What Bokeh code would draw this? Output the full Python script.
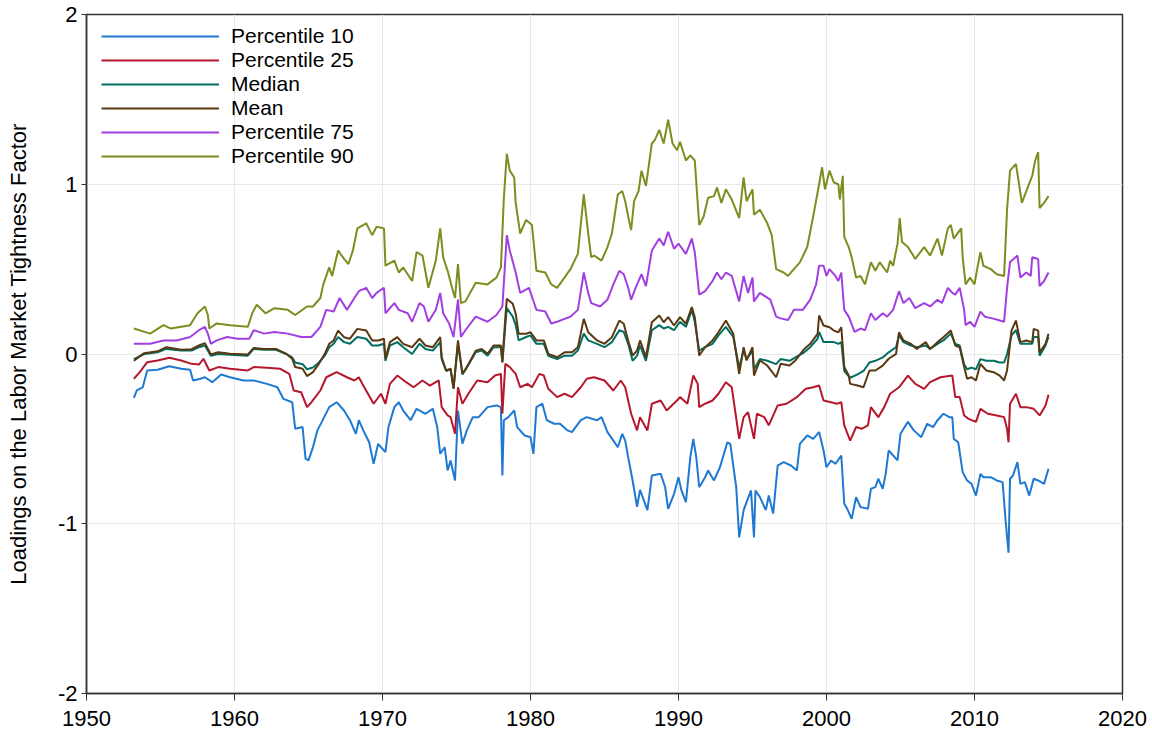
from bokeh.plotting import figure
from bokeh.models import Legend, LegendItem, FixedTicker
from bokeh.embed import file_html
from bokeh.resources import INLINE

# ---------------- data ----------------
p90_x = [1953.2, 1954.3, 1955.2, 1955.7, 1957.0, 1957.5, 1958.0, 1958.2, 1958.3, 1958.8, 1959.7, 1960.9,
         1961.2, 1961.5, 1962.1, 1962.7, 1963.6, 1964.1, 1964.9, 1965.3, 1965.8, 1966.0, 1966.4, 1966.6,
         1967.0, 1967.4, 1967.7, 1968.0, 1968.3, 1968.9, 1969.3, 1969.6, 1970.1, 1970.2, 1970.8, 1971.1,
         1971.4, 1972.0, 1972.3, 1972.7, 1973.1, 1973.6, 1973.9, 1974.1, 1974.4, 1974.7, 1974.9, 1975.1,
         1975.3, 1975.6, 1976.3, 1977.1, 1977.7, 1978.0, 1978.2, 1978.4, 1978.6, 1978.9, 1979.0, 1979.3,
         1979.7, 1980.1, 1980.4, 1981.0, 1981.4, 1981.8, 1982.7, 1983.2, 1983.6, 1983.9, 1984.1, 1984.3,
         1984.8, 1985.2, 1985.5, 1985.9, 1986.2, 1986.4, 1986.6, 1986.8, 1987.0, 1987.3, 1987.5, 1987.8,
         1988.2, 1988.4, 1988.7, 1989.0, 1989.3, 1989.6, 1989.9, 1990.1, 1990.5, 1990.8, 1991.1, 1991.4,
         1991.7, 1992.0, 1992.4, 1992.6, 1992.9, 1993.2, 1993.6, 1994.1, 1994.4, 1994.6, 1995.0, 1995.1,
         1995.5, 1996.0, 1996.3, 1996.6, 1997.1, 1997.4, 1997.8, 1998.2, 1998.7, 1999.1, 1999.5, 1999.7,
         1999.9, 2000.2, 2000.5, 2000.8, 2000.9, 2001.1, 2001.2, 2001.5, 2001.7, 2002.0, 2002.3, 2002.6,
         2003.0, 2003.3, 2003.6, 2004.1, 2004.3, 2004.5, 2004.8, 2004.95, 2005.1, 2005.5, 2006.0, 2006.6,
         2007.0, 2007.5, 2007.8, 2008.2, 2008.4, 2008.6, 2009.1, 2009.2, 2009.4, 2009.7, 2010.0, 2010.2,
         2010.4, 2010.6, 2011.1, 2011.5, 2012.0, 2012.2, 2012.4, 2012.8, 2013.2, 2013.5, 2013.9, 2014.1,
         2014.3, 2014.4, 2014.7, 2015.0]
p90_y = [0.15, 0.12, 0.17, 0.15, 0.17, 0.24, 0.28, 0.23, 0.15, 0.18, 0.17, 0.16,
         0.24, 0.29, 0.24, 0.27, 0.26, 0.23, 0.28, 0.28, 0.33, 0.41, 0.51, 0.46,
         0.61, 0.56, 0.53, 0.61, 0.74, 0.77, 0.70, 0.75, 0.74, 0.52, 0.55, 0.48,
         0.51, 0.43, 0.60, 0.58, 0.39, 0.55, 0.74, 0.57, 0.49, 0.39, 0.33, 0.53,
         0.30, 0.31, 0.42, 0.41, 0.45, 0.51, 0.92, 1.18, 1.08, 1.04, 0.89, 0.71,
         0.79, 0.76, 0.49, 0.48, 0.41, 0.39, 0.50, 0.59, 0.94, 0.71, 0.57, 0.58,
         0.55, 0.63, 0.71, 0.94, 0.96, 0.90, 0.81, 0.73, 0.90, 0.96, 1.08, 0.99,
         1.24, 1.26, 1.32, 1.24, 1.38, 1.24, 1.20, 1.25, 1.14, 1.17, 1.14, 0.76,
         0.81, 0.92, 0.93, 0.98, 0.89, 0.97, 0.91, 0.80, 1.04, 0.90, 0.97, 0.82,
         0.85, 0.77, 0.70, 0.50, 0.48, 0.46, 0.50, 0.54, 0.63, 0.81, 1.00, 1.10,
         0.97, 1.08, 1.01, 1.00, 0.91, 1.05, 0.69, 0.63, 0.57, 0.45, 0.46, 0.41,
         0.54, 0.49, 0.54, 0.48, 0.55, 0.52, 0.65, 0.80, 0.66, 0.63, 0.56, 0.63,
         0.58, 0.68, 0.58, 0.74, 0.76, 0.68, 0.74, 0.57, 0.41, 0.45, 0.41, 0.51,
         0.60, 0.52, 0.50, 0.47, 0.46, 0.85, 1.08, 1.12, 0.89, 0.96, 1.05, 1.14,
         1.19, 0.86, 0.89, 0.93]

p75_x = [1953.2, 1954.3, 1955.2, 1956.1, 1957.0, 1957.6, 1958.0, 1958.2, 1958.4, 1958.8, 1959.5, 1960.2,
         1961.0, 1961.3, 1962.0, 1962.7, 1963.6, 1964.5, 1965.2, 1965.8, 1966.2, 1966.7, 1967.1, 1967.6,
         1968.1, 1968.4, 1968.9, 1969.3, 1969.6, 1970.1, 1970.2, 1970.8, 1971.1, 1971.7, 1972.0, 1972.5,
         1972.8, 1973.1, 1973.6, 1973.9, 1974.1, 1974.5, 1974.8, 1975.1, 1975.3, 1975.6, 1976.3, 1977.1,
         1977.7, 1978.1, 1978.4, 1978.6, 1979.0, 1979.3, 1979.9, 1980.4, 1981.0, 1981.4, 1981.8, 1982.7,
         1983.2, 1983.6, 1983.9, 1984.1, 1984.7, 1985.2, 1985.6, 1986.0, 1986.3, 1986.6, 1986.8, 1987.1,
         1987.5, 1987.8, 1988.2, 1988.7, 1989.0, 1989.3, 1989.7, 1990.0, 1990.5, 1990.9, 1991.1, 1991.4,
         1991.8, 1992.3, 1992.6, 1992.9, 1993.2, 1993.6, 1994.1, 1994.4, 1994.7, 1995.0, 1995.1, 1995.5,
         1996.2, 1996.6, 1996.9, 1997.4, 1997.8, 1998.4, 1998.9, 1999.3, 1999.5, 1999.8, 2000.0, 2000.2,
         2000.6, 2000.8, 2001.0, 2001.2, 2001.5, 2001.9, 2002.3, 2002.6, 2003.0, 2003.3, 2003.8, 2004.1,
         2004.5, 2004.9, 2005.2, 2005.6, 2006.0, 2006.6, 2007.0, 2007.5, 2007.8, 2008.2, 2008.5, 2008.7,
         2009.0, 2009.3, 2009.4, 2009.7, 2010.0, 2010.4, 2010.7, 2011.2, 2011.6, 2012.0, 2012.2, 2012.4,
         2012.9, 2013.1, 2013.5, 2013.8, 2013.9, 2014.3, 2014.4, 2014.7, 2015.0]
p75_y = [0.06, 0.06, 0.08, 0.08, 0.10, 0.14, 0.16, 0.12, 0.06, 0.08, 0.10, 0.09,
         0.09, 0.14, 0.12, 0.13, 0.12, 0.10, 0.10, 0.16, 0.26, 0.25, 0.33, 0.26,
         0.33, 0.37, 0.39, 0.33, 0.36, 0.39, 0.24, 0.30, 0.26, 0.24, 0.19, 0.30,
         0.28, 0.19, 0.26, 0.36, 0.24, 0.18, 0.10, 0.32, 0.10, 0.14, 0.22, 0.19,
         0.23, 0.28, 0.70, 0.61, 0.48, 0.36, 0.39, 0.26, 0.25, 0.18, 0.19, 0.22,
         0.26, 0.48, 0.36, 0.30, 0.28, 0.32, 0.41, 0.49, 0.47, 0.39, 0.32, 0.39,
         0.47, 0.40, 0.61, 0.68, 0.64, 0.72, 0.62, 0.65, 0.59, 0.68, 0.60, 0.35,
         0.37, 0.43, 0.48, 0.44, 0.48, 0.46, 0.31, 0.46, 0.36, 0.45, 0.31, 0.36,
         0.32, 0.22, 0.21, 0.20, 0.26, 0.26, 0.32, 0.41, 0.52, 0.52, 0.46, 0.50,
         0.46, 0.43, 0.48, 0.26, 0.22, 0.13, 0.15, 0.14, 0.24, 0.20, 0.24, 0.22,
         0.26, 0.37, 0.30, 0.33, 0.27, 0.30, 0.28, 0.32, 0.30, 0.39, 0.36, 0.35,
         0.39, 0.26, 0.17, 0.19, 0.16, 0.25, 0.22, 0.21, 0.20, 0.19, 0.39, 0.54,
         0.58, 0.45, 0.48, 0.46, 0.57, 0.56, 0.40, 0.43, 0.48]

mean_x = [1953.2, 1953.9, 1954.8, 1955.4, 1956.4, 1957.1, 1957.6, 1958.0, 1958.4, 1958.9, 1959.7, 1960.9,
          1961.3, 1962.0, 1962.8, 1963.5, 1963.9, 1964.1, 1964.6, 1964.9, 1965.3, 1965.7, 1966.1, 1966.4,
          1966.7, 1967.0, 1967.4, 1967.8, 1968.3, 1968.9, 1969.3, 1969.7, 1970.1, 1970.2, 1970.5, 1971.0,
          1971.4, 1972.0, 1972.5, 1972.9, 1973.4, 1973.9, 1974.0, 1974.3, 1974.6, 1974.8, 1975.1, 1975.4,
          1975.7, 1976.3, 1976.7, 1977.1, 1977.5, 1978.0, 1978.1, 1978.3, 1978.4, 1978.8, 1979.0, 1979.2,
          1979.7, 1980.0, 1980.4, 1980.9, 1981.2, 1981.8, 1982.3, 1982.8, 1983.2, 1983.6, 1983.9, 1984.5,
          1985.0, 1985.5, 1986.0, 1986.3, 1986.6, 1986.9, 1987.2, 1987.4, 1987.8, 1988.2, 1988.7, 1989.0,
          1989.3, 1989.7, 1990.1, 1990.5, 1990.9, 1991.1, 1991.4, 1991.8, 1992.3, 1992.7, 1993.2, 1993.7,
          1994.1, 1994.4, 1994.6, 1995.0, 1995.1, 1995.5, 1996.0, 1996.6, 1996.9, 1997.5, 1997.9, 1998.5,
          1998.9, 1999.4, 1999.5, 1999.8, 2000.2, 2000.5, 2000.8, 2001.0, 2001.2, 2001.5, 2001.6, 2002.1,
          2002.5, 2002.9, 2003.3, 2003.8, 2004.2, 2004.7, 2004.9, 2005.2, 2005.7, 2006.1, 2006.7, 2007.0,
          2007.5, 2007.9, 2008.4, 2008.7, 2009.0, 2009.3, 2009.5, 2009.8, 2010.1, 2010.4, 2010.8, 2011.3,
          2011.7, 2012.0, 2012.2, 2012.5, 2012.8, 2013.1, 2013.5, 2013.9, 2014.0, 2014.3, 2014.4, 2014.8,
          2015.0]
mean_y = [-0.04, 0.005, 0.016, 0.04, 0.025, 0.028, 0.05, 0.064, -0.003, 0.01, 0.001, -0.003,
          0.036, 0.03, 0.03, 0.001, -0.028, -0.077, -0.087, -0.13, -0.107, -0.058, 0.001, 0.06,
          0.08, 0.138, 0.099, 0.09, 0.148, 0.138, 0.08, 0.08, 0.09, -0.028, 0.07, 0.099,
          0.06, 0.04, 0.09, 0.05, 0.04, 0.099, -0.019, -0.097, -0.087, -0.205, 0.08, -0.117,
          -0.077, 0.02, 0.03, 0.001, 0.05, 0.05, -0.048, 0.217, 0.325, 0.296, 0.237, 0.119,
          0.119, 0.128, 0.08, 0.08, 0.001, -0.019, 0.01, 0.01, 0.04, 0.207, 0.128, 0.08,
          0.06, 0.099, 0.197, 0.178, 0.08, -0.009, 0.02, 0.08, -0.019, 0.187, 0.227, 0.187,
          0.217, 0.168, 0.217, 0.178, 0.276, 0.217, -0.009, 0.04, 0.08, 0.128, 0.197, 0.119,
          -0.117, 0.04, -0.038, 0.04, -0.127, -0.038, -0.068, -0.137, -0.058, -0.068, -0.038, 0.03,
          0.06, 0.119, 0.227, 0.168, 0.158, 0.138, 0.128, 0.158, -0.077, -0.127, -0.176, -0.186,
          -0.196, -0.097, -0.097, -0.068, -0.028, 0.001, 0.128, 0.08, 0.06, 0.03, 0.07, 0.03,
          0.07, 0.099, 0.138, 0.05, 0.04, -0.077, -0.146, -0.137, -0.156, -0.058, -0.097, -0.107,
          -0.127, -0.156, -0.097, 0.138, 0.197, 0.07, 0.08, 0.07, 0.148, 0.138, 0.01, 0.06,
          0.119]

median_x = [1953.2, 1953.9, 1954.8, 1955.4, 1956.4, 1957.1, 1957.6, 1958.0, 1958.4, 1958.9, 1959.7, 1960.9,
            1961.3, 1962.0, 1962.8, 1963.5, 1963.9, 1964.1, 1964.6, 1964.9, 1965.3, 1965.7, 1966.1, 1966.4,
            1966.7, 1967.0, 1967.4, 1967.8, 1968.3, 1968.9, 1969.3, 1969.7, 1970.1, 1970.2, 1970.5, 1971.0,
            1971.4, 1972.0, 1972.5, 1972.9, 1973.4, 1973.9, 1974.0, 1974.3, 1974.6, 1974.8, 1975.1, 1975.4,
            1975.7, 1976.3, 1976.7, 1977.1, 1977.5, 1978.0, 1978.1, 1978.3, 1978.4, 1978.8, 1979.0, 1979.2,
            1979.7, 1980.0, 1980.4, 1980.9, 1981.2, 1981.8, 1982.3, 1982.8, 1983.2, 1983.6, 1983.9, 1984.5,
            1985.0, 1985.5, 1986.0, 1986.3, 1986.6, 1986.9, 1987.2, 1987.4, 1987.8, 1988.2, 1988.7, 1989.0,
            1989.3, 1989.7, 1990.1, 1990.5, 1990.9, 1991.1, 1991.4, 1991.8, 1992.3, 1992.7, 1993.2, 1993.7,
            1994.1, 1994.4, 1994.6, 1995.0, 1995.1, 1995.5, 1996.0, 1996.6, 1996.9, 1997.5, 1997.9, 1998.5,
            1998.9, 1999.4, 1999.5, 1999.8, 2000.2, 2000.5, 2000.8, 2001.0, 2001.2, 2001.5, 2001.6, 2002.1,
            2002.5, 2002.9, 2003.3, 2003.8, 2004.2, 2004.7, 2004.9, 2005.2, 2005.7, 2006.1, 2006.7, 2007.0,
            2007.5, 2007.9, 2008.4, 2008.7, 2009.0, 2009.3, 2009.5, 2009.8, 2010.1, 2010.4, 2010.8, 2011.3,
            2011.7, 2012.0, 2012.2, 2012.5, 2012.8, 2013.1, 2013.5, 2013.9, 2014.0, 2014.3, 2014.4, 2014.8,
            2015.0]
median_y = [-0.03, 0.0, 0.01, 0.03, 0.02, 0.02, 0.04, 0.05, -0.01, 0.0, -0.005, -0.01,
            0.03, 0.025, 0.025, 0.0, -0.02, -0.05, -0.06, -0.09, -0.08, -0.05, -0.01, 0.04,
            0.06, 0.10, 0.07, 0.06, 0.10, 0.09, 0.05, 0.05, 0.06, -0.04, 0.05, 0.07,
            0.04, 0.0, 0.06, 0.03, 0.02, 0.07, -0.03, -0.10, -0.09, -0.20, 0.06, -0.12,
            -0.08, 0.01, 0.02, -0.01, 0.04, 0.04, -0.05, 0.17, 0.27, 0.22, 0.17, 0.08,
            0.10, 0.11, 0.06, 0.06, -0.01, -0.03, -0.01, -0.01, 0.02, 0.12, 0.08, 0.06,
            0.04, 0.07, 0.14, 0.13, 0.06, -0.04, -0.01, 0.05, -0.04, 0.14, 0.17, 0.15,
            0.16, 0.14, 0.19, 0.16, 0.26, 0.19, 0.02, 0.04, 0.06, 0.11, 0.16, 0.10,
            -0.08, 0.02, -0.03, 0.02, -0.09, -0.03, -0.04, -0.06, -0.03, -0.04, -0.02, 0.01,
            0.04, 0.09, 0.13, 0.07, 0.07, 0.07, 0.06, 0.07, -0.10, -0.13, -0.14, -0.12,
            -0.10, -0.05, -0.04, -0.02, 0.01, 0.04, 0.11, 0.07, 0.05, 0.04, 0.05, 0.03,
            0.06, 0.08, 0.12, 0.06, 0.05, -0.06, -0.09, -0.08, -0.09, -0.03, -0.04, -0.04,
            -0.05, -0.05, 0.0, 0.11, 0.14, 0.06, 0.06, 0.06, 0.10, 0.10, -0.01, 0.05,
            0.10]

p25_x = [1953.2, 1953.6, 1954.1, 1954.8, 1955.6, 1956.4, 1957.1, 1957.6, 1957.9, 1958.3, 1958.9, 1959.7,
         1960.9, 1961.3, 1962.2, 1963.1, 1963.7, 1964.0, 1964.5, 1964.9, 1965.2, 1965.8, 1966.2, 1966.9,
         1967.6, 1968.1, 1968.4, 1968.7, 1969.4, 1969.9, 1970.2, 1970.5, 1971.0, 1971.6, 1972.1, 1972.7,
         1973.2, 1973.8, 1974.0, 1974.4, 1974.6, 1974.9, 1975.1, 1975.4, 1975.8, 1976.4, 1977.1, 1977.6,
         1978.0, 1978.1, 1978.3, 1978.6, 1979.0, 1979.3, 1979.8, 1980.1, 1980.6, 1980.9, 1981.2, 1981.8,
         1982.3, 1982.8, 1983.4, 1983.8, 1984.3, 1985.0, 1985.6, 1986.1, 1986.4, 1986.8, 1987.2, 1987.4,
         1987.9, 1988.2, 1988.8, 1989.2, 1989.9, 1990.1, 1990.6, 1991.0, 1991.3, 1991.4, 1991.8, 1992.3,
         1992.7, 1993.2, 1993.6, 1994.1, 1994.4, 1994.7, 1995.1, 1995.3, 1995.8, 1996.1, 1996.7, 1997.3,
         1998.0, 1998.6, 1999.1, 1999.5, 1999.8, 2000.3, 2000.7, 2001.0, 2001.2, 2001.6, 2002.0, 2002.4,
         2002.8, 2003.0, 2003.5, 2003.9, 2004.3, 2004.9, 2005.5, 2006.0, 2006.6, 2007.0, 2007.7, 2008.5,
         2008.7, 2009.0, 2009.3, 2009.6, 2010.1, 2010.4, 2010.9, 2011.5, 2012.0, 2012.2, 2012.3, 2012.4,
         2012.8, 2013.1, 2013.5, 2014.0, 2014.4, 2014.8, 2015.0]
p25_y = [-0.146, -0.107, -0.048, -0.038, -0.022, -0.038, -0.058, -0.062, -0.028, -0.097, -0.077, -0.087,
         -0.097, -0.077, -0.081, -0.087, -0.117, -0.215, -0.225, -0.313, -0.284, -0.215, -0.137, -0.107,
         -0.137, -0.156, -0.137, -0.186, -0.293, -0.234, -0.293, -0.176, -0.127, -0.166, -0.196, -0.156,
         -0.186, -0.156, -0.313, -0.362, -0.372, -0.47, -0.196, -0.293, -0.234, -0.156, -0.166, -0.127,
         -0.117, -0.352, -0.058, -0.077, -0.117, -0.196, -0.176, -0.196, -0.117, -0.127, -0.205, -0.254,
         -0.234, -0.254, -0.196, -0.146, -0.137, -0.156, -0.215, -0.156, -0.196, -0.352, -0.45, -0.372,
         -0.45, -0.293, -0.274, -0.333, -0.274, -0.254, -0.293, -0.127, -0.176, -0.313, -0.293, -0.274,
         -0.234, -0.166, -0.196, -0.50, -0.372, -0.343, -0.50, -0.352, -0.372, -0.42, -0.303, -0.293,
         -0.254, -0.205, -0.196, -0.186, -0.274, -0.284, -0.293, -0.284, -0.42, -0.51, -0.43, -0.44,
         -0.42, -0.313, -0.372, -0.313, -0.234, -0.196, -0.127, -0.176, -0.205, -0.166, -0.137, -0.127,
         -0.254, -0.254, -0.362, -0.382, -0.40, -0.323, -0.352, -0.362, -0.372, -0.44, -0.52, -0.293,
         -0.234, -0.313, -0.313, -0.323, -0.362, -0.303, -0.24]

p10_x = [1953.2, 1953.4, 1953.8, 1954.1, 1954.8, 1955.6, 1956.4, 1957.0, 1957.2, 1957.7, 1958.0, 1958.5,
         1959.1, 1959.7, 1960.6, 1961.3, 1962.2, 1962.9, 1963.3, 1963.9, 1964.1, 1964.6, 1964.8, 1965.0,
         1965.3, 1965.6, 1965.9, 1966.4, 1966.9, 1967.4, 1967.8, 1968.2, 1968.4, 1968.7, 1969.1, 1969.4,
         1969.7, 1970.2, 1970.4, 1970.8, 1971.1, 1971.4, 1971.9, 1972.3, 1972.9, 1973.4, 1973.7, 1973.9,
         1974.2, 1974.4, 1974.6, 1974.9, 1975.1, 1975.4, 1975.7, 1976.1, 1976.5, 1977.1, 1977.7, 1978.0,
         1978.1, 1978.2, 1978.5, 1978.9, 1979.1, 1979.6, 1980.0, 1980.2, 1980.4, 1980.8, 1981.1, 1981.6,
         1982.0, 1982.5, 1982.8, 1983.4, 1983.8, 1984.5, 1984.8, 1985.2, 1985.6, 1985.9, 1986.2, 1986.4,
         1986.6, 1986.9, 1987.2, 1987.4, 1987.9, 1988.2, 1988.8, 1989.1, 1989.3, 1989.7, 1990.0, 1990.2,
         1990.5, 1990.8, 1991.0, 1991.2, 1991.4, 1991.8, 1992.0, 1992.4, 1992.8, 1993.3, 1993.5, 1993.9,
         1994.1, 1994.4, 1994.6, 1994.9, 1995.1, 1995.2, 1995.5, 1995.9, 1996.1, 1996.4, 1996.7, 1997.1,
         1997.6, 1998.0, 1998.2, 1998.7, 1999.1, 1999.5, 1999.8, 2000.0, 2000.3, 2000.6, 2001.0, 2001.2,
         2001.4, 2001.7, 2002.0, 2002.3, 2002.8, 2003.0, 2003.3, 2003.5, 2003.8, 2004.0, 2004.2, 2004.5,
         2004.8, 2005.0, 2005.5, 2005.9, 2006.4, 2006.8, 2007.2, 2007.5, 2007.9, 2008.3, 2008.5, 2008.6,
         2008.9, 2009.2, 2009.5, 2009.8, 2010.1, 2010.4, 2010.6, 2011.1, 2011.5, 2011.9, 2012.1, 2012.3,
         2012.4, 2012.6, 2012.9, 2013.1, 2013.4, 2013.7, 2014.0, 2014.3, 2014.7, 2015.0]
p10_y = [-0.258, -0.215, -0.196, -0.097, -0.093, -0.072, -0.087, -0.093, -0.156, -0.146, -0.137, -0.166,
         -0.121, -0.137, -0.156, -0.156, -0.176, -0.196, -0.264, -0.284, -0.44, -0.43, -0.617, -0.627,
         -0.55, -0.45, -0.40, -0.313, -0.284, -0.333, -0.39, -0.47, -0.39, -0.45, -0.52, -0.647,
         -0.53, -0.578, -0.431, -0.313, -0.284, -0.333, -0.39, -0.323, -0.352, -0.323, -0.431, -0.588,
         -0.549, -0.686, -0.627, -0.745, -0.333, -0.529, -0.45, -0.372, -0.372, -0.313, -0.303, -0.313,
         -0.716, -0.39, -0.372, -0.333, -0.431, -0.48, -0.49, -0.588, -0.313, -0.293, -0.39, -0.411,
         -0.411, -0.45, -0.46, -0.39, -0.372, -0.39, -0.372, -0.46, -0.51, -0.549, -0.47, -0.51,
         -0.608, -0.745, -0.90, -0.80, -0.92, -0.716, -0.706, -0.785, -0.912, -0.824, -0.726, -0.804,
         -0.873, -0.608, -0.50, -0.608, -0.785, -0.726, -0.686, -0.745, -0.667, -0.52, -0.529, -0.785,
         -1.08, -0.92, -0.873, -0.804, -1.08, -0.804, -0.843, -0.92, -0.834, -0.94, -0.657, -0.637,
         -0.657, -0.686, -0.529, -0.48, -0.50, -0.46, -0.568, -0.667, -0.627, -0.647, -0.598, -0.882,
         -0.912, -0.971, -0.843, -0.902, -0.912, -0.794, -0.784, -0.735, -0.794, -0.706, -0.568, -0.598,
         -0.627, -0.47, -0.40, -0.45, -0.49, -0.411, -0.431, -0.39, -0.352, -0.372, -0.372, -0.50,
         -0.52, -0.696, -0.745, -0.765, -0.834, -0.706, -0.726, -0.726, -0.745, -0.755, -0.98, -1.17,
         -0.735, -0.716, -0.637, -0.765, -0.755, -0.834, -0.735, -0.745, -0.765, -0.676]

series_names = ["Percentile 10", "Percentile 25", "Median", "Mean", "Percentile 75", "Percentile 90"]
series_colors = ["#1f78d2", "#b5172c", "#006e62", "#5a3810", "#a23fe0", "#7f8c1f"]
x_ticks = [1950, 1960, 1970, 1980, 1990, 2000, 2010, 2020]
y_ticks = [-2, -1, 0, 1, 2]
y_tick_labels = {-2: "-2", -1: "-1", 0: "0", 1: "1", 2: "2"}

FONT = "Liberation Sans"

p = figure(width=1150, height=742, x_range=(1950, 2020), y_range=(-2, 2),
           output_backend="svg", toolbar_location=None,
           min_border_left=86, min_border_right=28, min_border_top=14, min_border_bottom=49)
p.background_fill_color = "white"
p.border_fill_color = "white"
p.outline_line_color = "#333333"
p.outline_line_width = 1.5

data = [(p10_x, p10_y), (p25_x, p25_y), (median_x, median_y), (mean_x, mean_y),
        (p75_x, p75_y), (p90_x, p90_y)]
renderers = []
for (xs, ys), c in zip(data, series_colors):
    r = p.line(xs, ys, line_color=c, line_width=2)
    renderers.append(r)

items = [LegendItem(label=n, renderers=[r]) for n, r in zip(series_names, renderers)]
legend = Legend(items=items, location=(15, 525), margin=0, padding=0, spacing=0,
                glyph_width=118, glyph_height=22, label_height=22, label_standoff=12,
                label_text_font=FONT, label_text_font_size="21px", label_text_color="black",
                background_fill_alpha=0, border_line_alpha=0)
p.add_layout(legend)

for ax in (p.xaxis[0], p.yaxis[0]):
    ax.axis_line_color = "#333333"
    ax.axis_line_width = 1.5
    ax.major_tick_line_color = "#333333"
    ax.major_tick_in = 0
    ax.minor_tick_line_color = None
    ax.major_label_text_font = FONT
    ax.major_label_text_font_size = "22px"
    ax.major_label_text_color = "black"

p.xaxis.ticker = FixedTicker(ticks=x_ticks)
p.yaxis.ticker = FixedTicker(ticks=y_ticks)
p.yaxis.major_label_overrides = y_tick_labels
p.xaxis.major_tick_out = 7
p.xaxis.major_label_standoff = 10
p.yaxis.major_tick_out = 5
p.yaxis.major_label_standoff = 4

p.yaxis.axis_label = "Loadings on the Labor Market Tightness Factor"
p.yaxis.axis_label_text_font = FONT
p.yaxis.axis_label_text_font_size = "22px"
p.yaxis.axis_label_text_font_style = "normal"
p.yaxis.axis_label_text_color = "black"
p.yaxis.axis_label_standoff = 24

p.xgrid.ticker = FixedTicker(ticks=x_ticks)
p.ygrid.ticker = FixedTicker(ticks=y_ticks)
p.xgrid.grid_line_color = "#e8e8e8"
p.ygrid.grid_line_color = "#e8e8e8"
p.xgrid.grid_line_width = 1
p.ygrid.grid_line_width = 1

open("out.html", "w").write(file_html(p, INLINE))
